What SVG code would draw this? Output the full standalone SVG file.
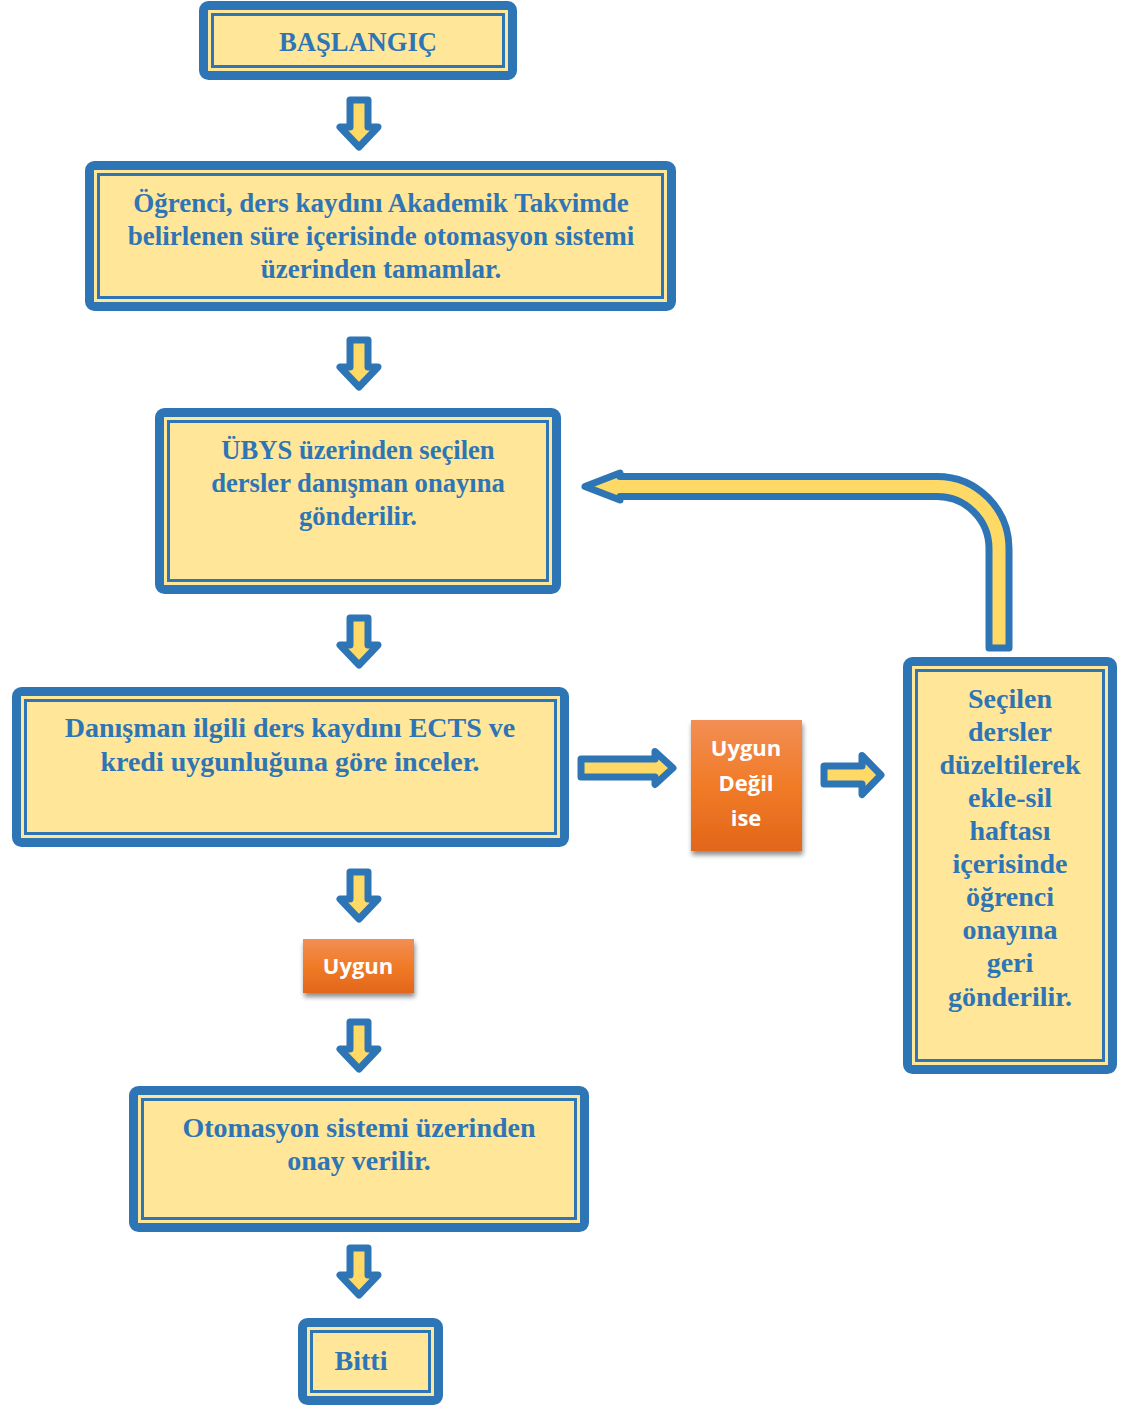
<svg xmlns="http://www.w3.org/2000/svg" width="1125" height="1405" viewBox="0 0 1125 1405">
<style>
.o{fill:#FFE699;stroke:#2E75B6;stroke-width:9}
.i{fill:none;stroke:#2E75B6;stroke-width:3}
.t{font-family:"Liberation Serif","Times New Roman",serif;font-weight:bold;font-size:28px;fill:#2E75B6;text-anchor:middle}
.s27{font-size:27px}
.s26{font-size:26.6px}
.w{font-family:"Open Sans","Noto Sans","Liberation Sans",sans-serif;font-weight:bold;font-size:22px;fill:#FFFFFF;text-anchor:middle}
.ar{fill:#FFD966;stroke:#2E75B6;stroke-width:7;stroke-linejoin:round}
.org{fill:url(#og);filter:url(#sh)}
</style>
<defs>
<linearGradient id="og" x1="0" y1="0" x2="0" y2="1">
<stop offset="0" stop-color="#F28E55"/>
<stop offset="0.5" stop-color="#F07B27"/>
<stop offset="1" stop-color="#E2661A"/>
</linearGradient>
<filter id="sh" x="-20%" y="-20%" width="140%" height="140%">
<feGaussianBlur in="SourceAlpha" stdDeviation="2.5"/>
<feOffset dx="1" dy="4" result="b"/>
<feComponentTransfer><feFuncA type="linear" slope="0.45"/></feComponentTransfer>
<feMerge><feMergeNode/><feMergeNode in="SourceGraphic"/></feMerge>
</filter>
<path id="down" d="M -9 0 L 9 0 L 9 27 L 19 27 L 0 47 L -19 27 L -9 27 Z"/>
</defs>
<rect width="1125" height="1405" fill="#FFFFFF"/>

<g id="connectors">
<use href="#down" class="ar" x="359" y="100"/>
<use href="#down" class="ar" x="359" y="340"/>
<use href="#down" class="ar" x="359" y="618"/>
<use href="#down" class="ar" x="359" y="872"/>
<use href="#down" class="ar" x="359" y="1022"/>
<use href="#down" class="ar" x="359" y="1248"/>
<path class="ar" d="M 581 759 L 655 759 L 655 751.5 L 673 768 L 655 784.5 L 655 777 L 581 777 Z"/>
<path class="ar" d="M 824 766 L 862 766 L 862 755.5 L 881 775 L 862 794.5 L 862 784 L 824 784 Z"/>
<path class="ar" d="M 620 476.5 L 937 476.5 A 72 72 0 0 1 1009 548.5 L 1009 648 L 989 648 L 989 548.5 A 52 52 0 0 0 937 496.5 L 620 496.5 L 620 500 L 585 486.5 L 620 473 Z"/>
</g>

<g id="start">
<rect class="o" x="203.5" y="5.5" width="309" height="70" rx="5"/>
<rect class="i" x="212.5" y="14.5" width="291" height="52"/>
<text class="t s26" x="358" y="51">BAŞLANGIÇ</text>
</g>

<g id="step1">
<rect class="o" x="89.5" y="165.5" width="582" height="141" rx="5"/>
<rect class="i" x="98.5" y="174.5" width="564" height="123"/>
<text class="t s27" x="381" y="212">Öğrenci, ders kaydını Akademik Takvimde</text>
<text class="t s27" x="381" y="245">belirlenen süre içerisinde otomasyon sistemi</text>
<text class="t s27" x="381" y="278">üzerinden tamamlar.</text>
</g>

<g id="step2">
<rect class="o" x="159.5" y="412.5" width="397" height="177" rx="5"/>
<rect class="i" x="168.5" y="421.5" width="379" height="159"/>
<text class="t s26" x="358" y="459">ÜBYS üzerinden seçilen</text>
<text class="t s26" x="358" y="492">dersler danışman onayına</text>
<text class="t s26" x="358" y="525">gönderilir.</text>
</g>

<g id="step3">
<rect class="o" x="16.5" y="691.5" width="548" height="151" rx="5"/>
<rect class="i" x="25.5" y="700.5" width="530" height="133"/>
<text class="t" x="290" y="737">Danışman ilgili ders kaydını ECTS ve</text>
<text class="t" x="290" y="771">kredi uygunluğuna göre inceler.</text>
</g>

<g id="notok">
<rect class="org" x="691" y="720" width="111" height="131"/>
<text class="w" x="746" y="756">Uygun</text>
<text class="w" x="746" y="791">Değil</text>
<text class="w" x="746" y="826">ise</text>
</g>

<g id="fix">
<rect class="o" x="907.5" y="661.5" width="205" height="408" rx="5"/>
<rect class="i" x="916.5" y="670.5" width="187" height="390"/>
<text class="t" x="1010" y="708">Seçilen</text>
<text class="t" x="1010" y="741">dersler</text>
<text class="t" x="1010" y="774">düzeltilerek</text>
<text class="t" x="1010" y="807">ekle-sil</text>
<text class="t" x="1010" y="840">haftası</text>
<text class="t" x="1010" y="873">içerisinde</text>
<text class="t" x="1010" y="906">öğrenci</text>
<text class="t" x="1010" y="939">onayına</text>
<text class="t" x="1010" y="972">geri</text>
<text class="t" x="1010" y="1006">gönderilir.</text>
</g>

<g id="ok">
<rect class="org" x="303" y="939" width="111" height="54"/>
<text class="w" x="358" y="974">Uygun</text>
</g>

<g id="approve">
<rect class="o" x="133.5" y="1090.5" width="451" height="137" rx="5"/>
<rect class="i" x="142.5" y="1099.5" width="433" height="119"/>
<text class="t" x="359" y="1137">Otomasyon sistemi üzerinden</text>
<text class="t" x="359" y="1170">onay verilir.</text>
</g>

<g id="end">
<rect class="o" x="302.5" y="1322.5" width="136" height="78" rx="5"/>
<rect class="i" x="311.5" y="1331.5" width="118" height="60"/>
<text class="t" x="361" y="1370">Bitti</text>
</g>
</svg>
